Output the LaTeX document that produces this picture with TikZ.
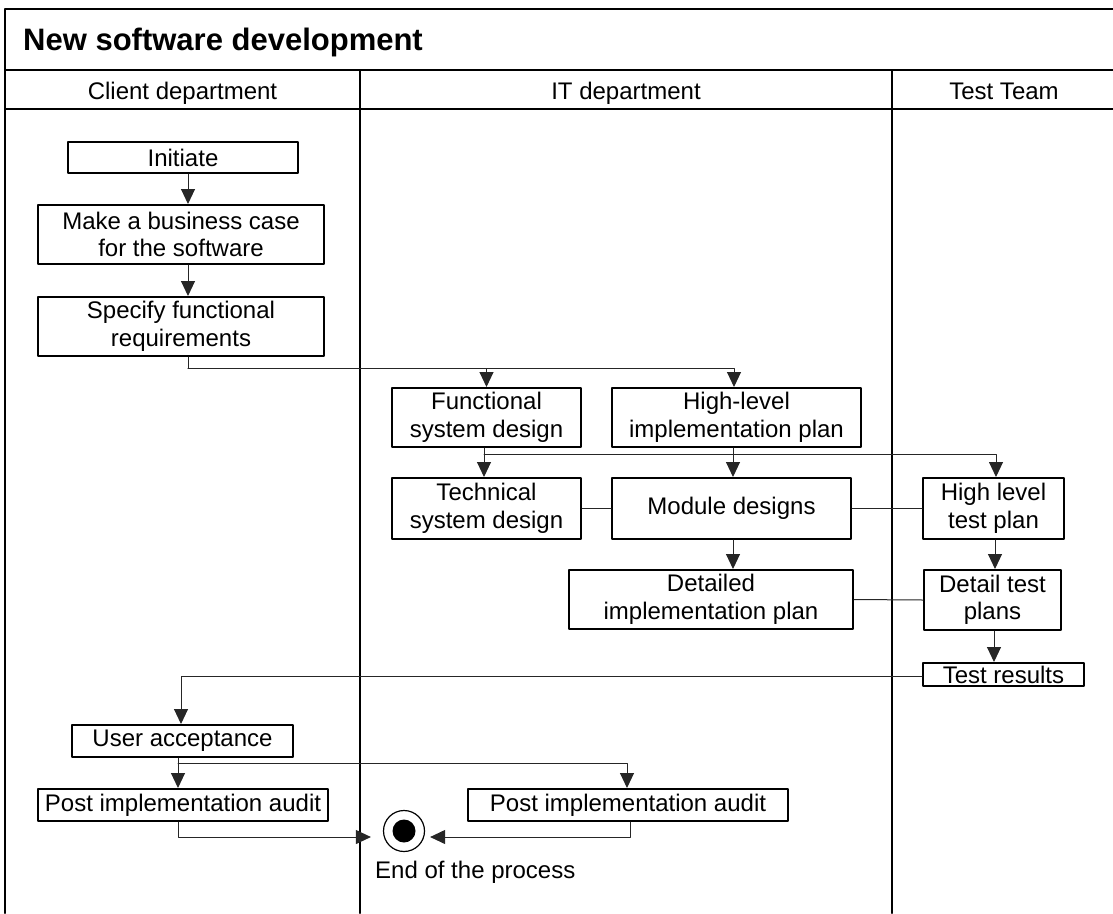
\documentclass[tikz,border=0pt]{standalone}
\usepackage{fontspec}
\setmainfont{Liberation Sans}
\usetikzlibrary{arrows.meta}

\begin{document}
\begin{tikzpicture}[x=1pt,y=-1pt,line cap=round,line join=round,
  >={Triangle[length=15pt,width=14pt]},
  frame/.style={line width=2pt},
  lbl/.style={inner sep=0pt,font=\fontsize{24}{27.5}\selectfont},
  box/.style={lbl,draw,line width=2pt,align=center},
  link/.style={line width=1pt,black!85},
  flow/.style={link,->}]
  \useasboundingbox (0,0) rectangle (1113,913);
  \draw[frame] (5,913) -- (5,9) -- (1116,9) -- (1116,913);
  \draw[frame] (5,70) -- (1116,70);
  \draw[frame] (5,109) -- (1116,109);
  \foreach \x in {360,892}
    \draw[frame] (\x,70) -- (\x,913);
  \node[anchor=base west,inner sep=0pt,font=\fontsize{31}{34}\selectfont\bfseries] (title) at (23,50.5) {New software development};
  \node[lbl,anchor=base] (client) at (182.5,99) {Client department};
  \node[lbl,anchor=base] (it) at (626,99) {IT department};
  \node[lbl,anchor=base] (team) at (1004,99) {Test Team};

  \node[box,minimum width=230pt,minimum height=31pt] (init) at (183,157.5) {Initiate};
  \node[box,minimum width=286pt,minimum height=59pt] (biz) at (181,234.5) {Make a business case\\for the software};
  \node[box,minimum width=286pt,minimum height=59pt] (spec) at (181,326.5) {Specify functional\\requirements};
  \node[box,minimum width=189pt,minimum height=59pt] (func) at (486.5,417.5) {Functional\\system design};
  \node[box,minimum width=249pt,minimum height=59pt] (hlplan) at (736.5,417.5) {High-level\\implementation plan};
  \node[box,minimum width=189pt,minimum height=61pt] (tech) at (486.5,508.5) {Technical\\system design};
  \node[box,minimum width=239pt,minimum height=61pt] (modd) at (731.5,508.5) {Module designs};
  \node[box,minimum width=284pt,minimum height=59pt] (detimpl) at (711,599.5) {Detailed\\implementation plan};
  \node[box,minimum width=141pt,minimum height=61pt] (hltest) at (993.5,508.5) {High level\\test plan};
  \node[box,minimum width=137pt,minimum height=60pt] (dettest) at (992.5,600) {Detail test\\plans};
  \node[box,minimum width=161pt,minimum height=23pt] (results) at (1003.5,674.5) {Test results};
  \node[box,minimum width=221pt,minimum height=32pt] (useracc) at (182.5,741) {User acceptance};
  \node[box,minimum width=290pt,minimum height=32pt] (audit1) at (183,805) {Post implementation audit};
  \node[box,minimum width=320pt,minimum height=32pt] (audit2) at (628,805) {Post implementation audit};
  \node[circle,draw,line width=1.2pt,minimum size=41pt,inner sep=0pt] (endpt) at (404,831) {};
  \fill (endpt.center) circle (11.5pt);
  \node[lbl,anchor=base west] (endtxt) at (375,878) {End of the process};

  \coordinate (spine) at (188,0);
  \coordinate (fork1) at (188,368);
  \coordinate (fork2) at (484,454);
  \coordinate (fork3) at (178,763);
  \draw[flow] (init.south -| spine) -- (biz.north -| spine);
  \draw[flow] (biz.south -| spine) -- (spec.north -| spine);
  \draw[link] (spec.south -| spine) -- (fork1);
  \draw[flow] (fork1) -| (func.north);
  \draw[flow] (fork1) -| ([xshift=-2.5pt]hlplan.north);
  \draw[flow] (func.south -| fork2) -- (tech.north -| fork2);
  \draw[flow] (fork2) -| ([xshift=2.5pt]hltest.north);
  \draw[flow] ([xshift=-3.5pt]hlplan.south) -- ([xshift=-3.5pt]hlplan.south |- modd.north);
  \draw[link] (tech.east) -- (modd.west);
  \draw[link] (modd.east) -- (hltest.west);
  \draw[flow] ([xshift=1.5pt]modd.south) -- ([xshift=1.5pt]modd.south |- detimpl.north);
  \draw[link] (detimpl.east) -- (dettest.west);
  \draw[flow] ([xshift=1.5pt]hltest.south) -- ([xshift=1.5pt]hltest.south |- dettest.north);
  \draw[flow] ([xshift=1.5pt]dettest.south) -- ([xshift=1.5pt]dettest.south |- results.north);
  \draw[flow] ([yshift=-1.5pt]results.west) -| ([xshift=-1.5pt]useracc.north);
  \draw[flow] (useracc.south -| fork3) -- (audit1.north -| fork3);
  \draw[flow] (fork3) -| ([xshift=-1pt]audit2.north);
  \draw[flow,shorten >=12pt] ([xshift=-4.5pt]audit1.south) |- ([yshift=-6pt]endpt.west);
  \draw[flow,shorten >=5pt] ([xshift=2pt]audit2.south) |- ([yshift=-6pt]endpt.east);
\end{tikzpicture}
\end{document}
